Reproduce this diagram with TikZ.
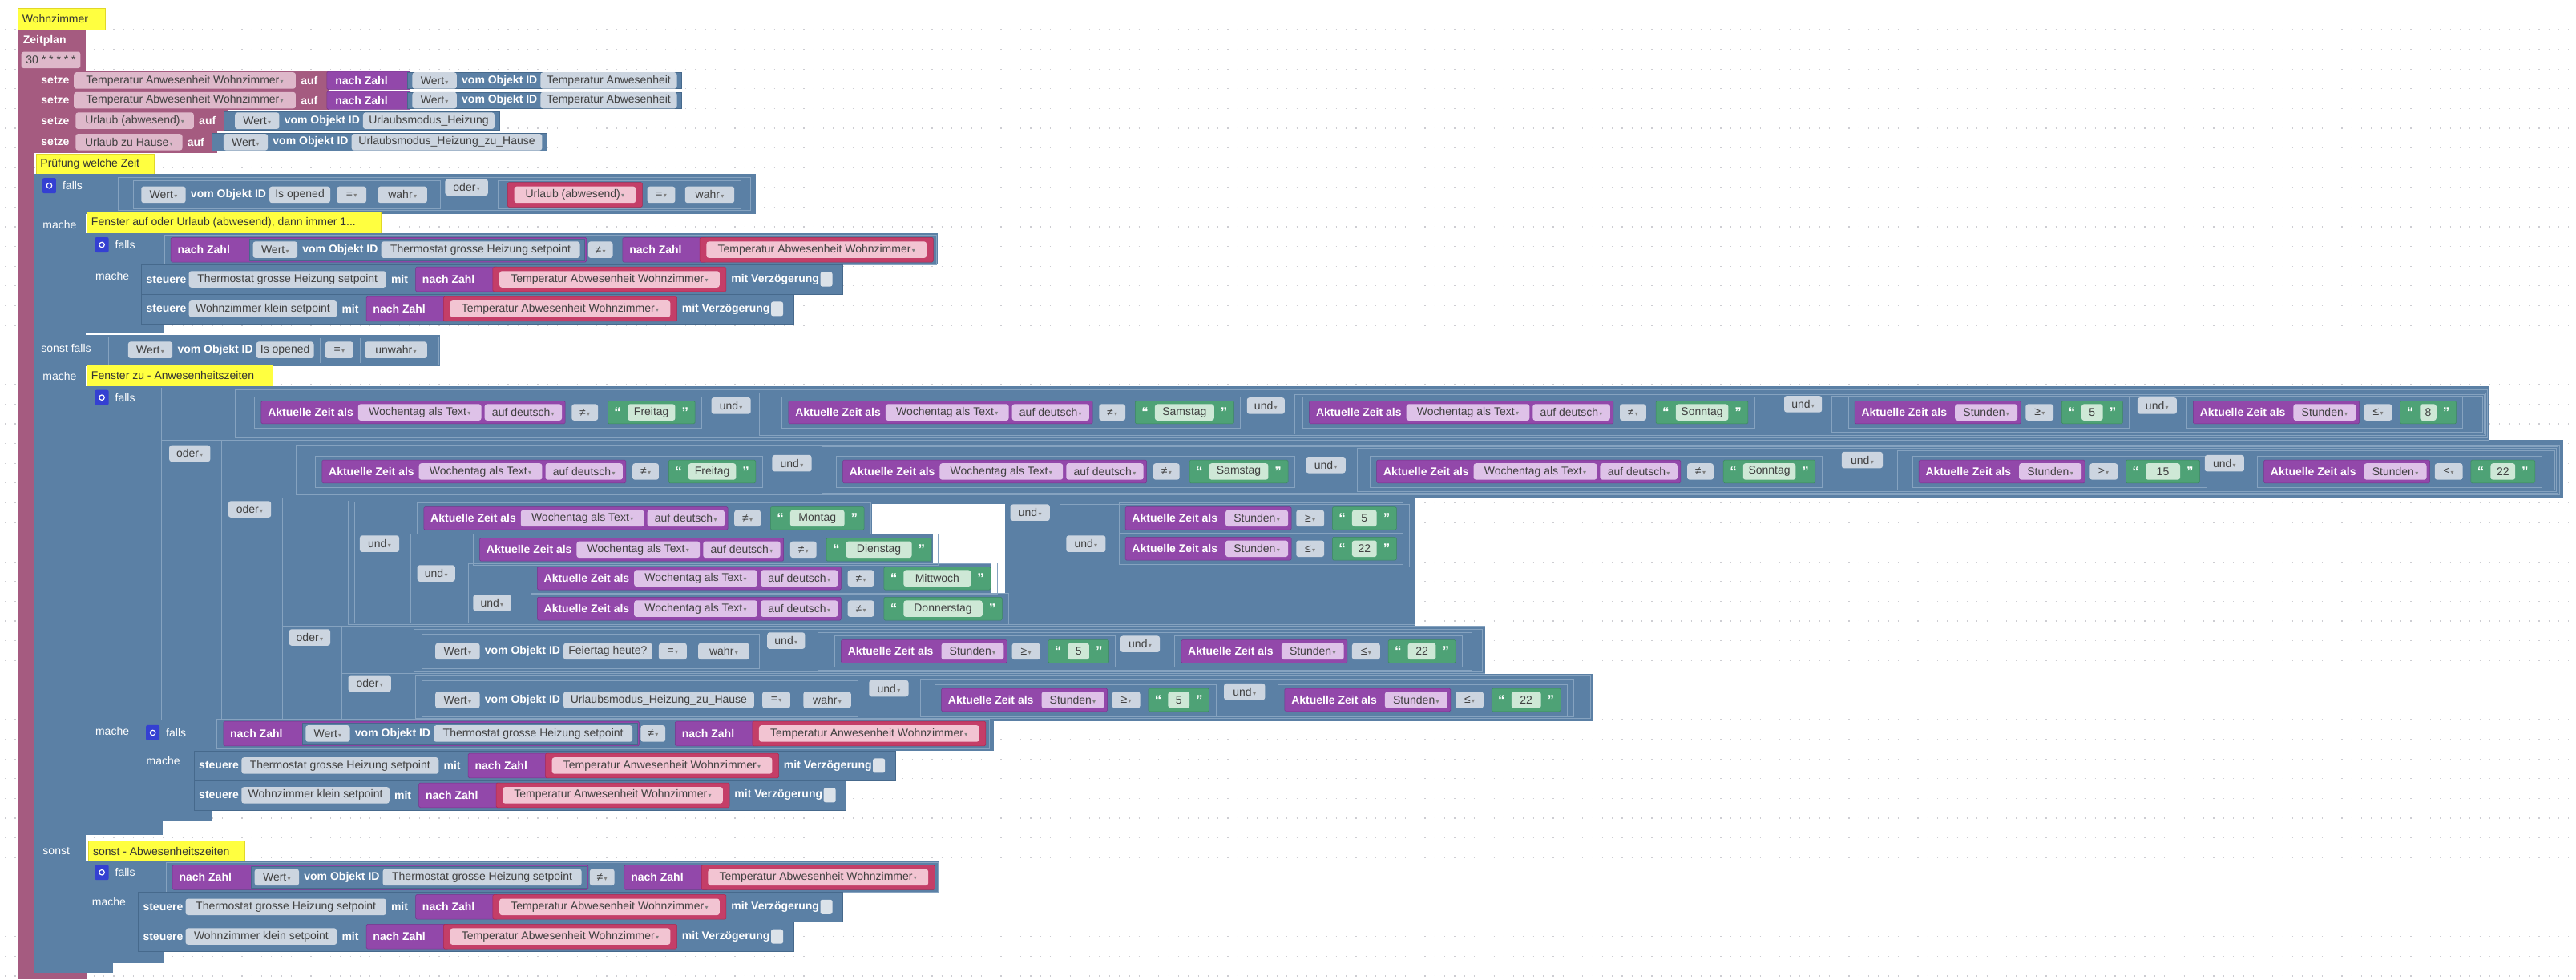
\documentclass[tikz,border=0pt]{standalone}
\usepackage{fontspec}
\setmainfont{Liberation Sans}
\newfontfamily\ddfam{DejaVu Sans}
\usetikzlibrary{positioning}

\definecolor{logicBlue}{HTML}{5B80A5}
\definecolor{logicDark}{HTML}{46698C}
\definecolor{logicLight}{HTML}{86A3C0}
\definecolor{varRed}{HTML}{A55B80}
\definecolor{purpCol}{RGB}{146,72,170}
\definecolor{purpDark}{RGB}{118,52,140}
\definecolor{textGreen}{RGB}{78,162,118}
\definecolor{greenDark}{RGB}{60,135,95}
\definecolor{redVar}{RGB}{196,62,104}
\definecolor{redDark}{RGB}{170,40,80}
\definecolor{pillGray}{RGB}{204,213,224}
\definecolor{pillPink}{RGB}{222,184,202}
\definecolor{pillRed}{RGB}{242,196,210}
\definecolor{pillLav}{RGB}{222,194,232}
\definecolor{pillGreen}{RGB}{206,232,214}
\definecolor{cmtYellow}{RGB}{255,255,64}
\definecolor{cmtEdge}{RGB}{225,215,40}
\definecolor{gearBlue}{RGB}{52,64,210}
\definecolor{dotGray}{RGB}{205,205,210}

\newcommand\blkfont{\fontsize{14}{16}\selectfont}
\newcommand\ddarr{{\ddfam\fontsize{8}{8}\selectfont\,\textcolor{gray}{▾}}}

% basic pieces
\newcommand\blk[5]{\path[#1] (#2,#3) rectangle (#4,#5);}
\newcommand\pill[6]{%
  \path[#1] (#3,#5-5) rectangle (#4,#5+5);
  \node[ftxt] (#2) at ({(#3+#4)/2},#5) {#6};}
\newcommand\cmt[6]{%
  \path[cmtbox] (#2,#3) rectangle (#4,#5);
  \node[cmttxt] (#1) at (#2+2.5,{(#3+#5)/2}) {#6};}
\newcommand\gear[3]{%
  \node[gearbx] (#1) at (#2,#3) {};
  \draw[white, line width=1.2pt] (#1.center) circle (3.2pt);}
\newcommand\strblk[5]{%
  \blk{grn}{#2}{#4-7}{#3}{#4+7}
  \node[qt] (#1q) at (#2+6,#4) {“};
  \node[qt] (#1r) at (#3-6,#4) {”};
  \pill{lgrn}{#1}{#2+12}{#3-12}{#4}{#5}}
\newcommand\varblk[5]{%
  \blk{redv}{#2}{#4-7.5}{#3}{#4+7.5}
  \pill{rpill}{#1}{#2+4}{#3-4}{#4}{#5\ddarr}}
\newcommand\wert[5]{%
  \pill{gpill}{#1w}{#2}{#2+27}{#3}{Wert\ddarr}
  \node[lbl] (#1v) at (#2+30,#3) {vom Objekt ID};
  \pill{gpill}{#1}{#2+78}{#5}{#3}{#4}}
% Aktuelle Zeit als Wochentag ... != "day"
\newcommand\cmpday[5]{%
  \draw[frm] (#2-4,#3-9.5) rectangle (#2+215+#5,#3+9.5);
  \blk{purp}{#2}{#3-7}{#2+185}{#3+7}
  \node[lbl] (#1l) at (#2+4,#3) {Aktuelle Zeit als};
  \pill{lav}{#1a}{#2+59}{#2+134}{#3}{Wochentag als Text\ddarr}
  \pill{lav}{#1b}{#2+136}{#2+183}{#3}{auf deutsch\ddarr}
  \pill{gpill}{#1o}{#2+189}{#2+205}{#3}{≠\ddarr}
  \strblk{#1s}{#2+211}{#2+211+#5}{#3}{#4}}
% Aktuelle Zeit als Stunden op "val"
\newcommand\cmphr[6]{%
  \draw[frm] (#2-4,#3-9.5) rectangle (#2+130+#6,#3+9.5);
  \blk{purp}{#2}{#3-7}{#2+101}{#3+7}
  \node[lbl] (#1l) at (#2+4,#3) {Aktuelle Zeit als};
  \pill{lav}{#1a}{#2+61}{#2+99}{#3}{Stunden\ddarr}
  \pill{gpill}{#1o}{#2+104}{#2+121}{#3}{#4\ddarr}
  \strblk{#1s}{#2+126}{#2+126+#6}{#3}{#5}}
% nach Zahl(Wert Thermostat) != nach Zahl(Temperatur ...)
\newcommand\thermcond[4]{%
  \draw[frm] (#2,#3-9) rectangle (#2+470,#3+9);
  \blk{purp}{#2+4}{#3-7.5}{#2+257}{#3+7.5}
  \node[lbl] (#1n) at (#2+8,#3) {nach Zahl};
  \blk{vblk}{#2+52}{#3-6.5}{#2+256}{#3+6.5}
  \wert{#1w}{#2+54}{#3}{Thermostat grosse Heizung setpoint}{#2+253}
  \pill{gpill}{#1o}{#2+258}{#2+273}{#3}{≠\ddarr}
  \blk{purp}{#2+279}{#3-7.5}{#2+330}{#3+7.5}
  \node[lbl] (#1m) at (#2+283,#3) {nach Zahl};
  \varblk{#1v}{#2+326}{#2+468}{#3}{Temperatur #4 Wohnzimmer}}
% steuere device mit nach Zahl(...) mit Verzoegerung
\newcommand\steuere[6]{%
  \blk{vblk}{#2}{#3-9}{#5+278}{#3+9}
  \node[lbl] (#1s) at (#2+3,#3) {steuere};
  \pill{gpill}{#1d}{#2+29}{#5}{#3}{#4}
  \node[lbl] (#1m) at (#5+3,#3) {mit};
  \blk{purp}{#5+18}{#3-7.5}{#5+68}{#3+7.5}
  \node[lbl] (#1n) at (#5+22,#3) {nach Zahl};
  \varblk{#1v}{#5+65}{#5+207}{#3}{Temperatur #6 Wohnzimmer}
  \node[lbl] (#1z) at (#5+210,#3) {mit Verzögerung};
  \node[chk] (#1c) at (#5+268,#3) {};}

\begin{document}
\begin{tikzpicture}[x=2.0497pt, y=-2.0503pt,
    lbl/.style={anchor=west, inner sep=0pt, text=white, font=\blkfont\bfseries},
    lblr/.style={anchor=west, inner sep=0pt, text=white, font=\blkfont},
    ftxt/.style={inner sep=0pt, text=black!75, font=\blkfont},
    cmttxt/.style={anchor=west, inner sep=0pt, text=black!80, font=\blkfont},
    qt/.style={inner sep=0pt, text=white, font=\fontsize{17}{17}\selectfont\bfseries},
    vblk/.style={fill=logicBlue, draw=logicDark, line width=0.5pt},
    purp/.style={fill=purpCol, draw=purpDark, line width=0.5pt, rounded corners=1.5pt},
    grn/.style={fill=textGreen, draw=greenDark, line width=0.5pt, rounded corners=1.5pt},
    redv/.style={fill=redVar, draw=redDark, line width=0.5pt, rounded corners=1.5pt},
    gpill/.style={fill=pillGray, rounded corners=3pt},
    ppill/.style={fill=pillPink, rounded corners=3pt},
    rpill/.style={fill=pillRed, rounded corners=3pt},
    lav/.style={fill=pillLav, rounded corners=3pt},
    lgrn/.style={fill=pillGreen, rounded corners=3pt},
    frm/.style={draw=logicLight, line width=0.6pt},
    cmtbox/.style={fill=cmtYellow, draw=cmtEdge, line width=0.6pt},
    gearbx/.style={fill=gearBlue, rounded corners=2pt, minimum width=17pt, minimum height=19pt, inner sep=0pt},
    chk/.style={fill=pillGray!70!white, rounded corners=2.5pt, minimum width=15pt, minimum height=18pt, inner sep=0pt}
  ]
\useasboundingbox (0,0) rectangle (1568,596);
\fill[white] (0,0) rectangle (1568,596);
\foreach \yy in {6,18,...,594}
  \draw[dotGray, line width=1.2pt, dash pattern=on 1.2pt off 11.1pt] (3,\yy) -- (1568,\yy);

% Zeitplan and setze rows
\fill[varRed] (11,17) rectangle (52,43);
\fill[varRed] (11,43) rectangle (21,596);
\fill[varRed] (11,592) rectangle (53,596);
\fill[varRed] (21,43) rectangle (200,55);
\fill[varRed] (21,55) rectangle (200,67);
\fill[varRed] (21,67) rectangle (139,80);
\fill[varRed] (21,80) rectangle (132,93);
\cmt{wz}{11}{5}{64}{18}{Wohnzimmer}
\node[lbl] (zeitplan) at (14,25) {Zeitplan};
\pill{ppill}{cron}{13}{49}{36.5}{30 * * * * *}

\node[lbl] (r1set) at (25,49) {setze};
\pill{ppill}{r1var}{45}{180}{49}{Temperatur Anwesenheit Wohnzimmer\ddarr}
\node[lbl] (r1auf) at (183,49) {auf};
\blk{purp}{199}{43.5}{250}{54.5}
\node[lbl] (r1nz) at (204,49) {nach Zahl};
\blk{vblk}{248}{44}{415}{54}
\wert{r1obj}{251}{49}{Temperatur Anwesenheit}{412}

\node[lbl] (r2set) at (25,61) {setze};
\pill{ppill}{r2var}{45}{180}{61}{Temperatur Abwesenheit Wohnzimmer\ddarr}
\node[lbl] (r2auf) at (183,61) {auf};
\blk{purp}{199}{55.5}{250}{66.5}
\node[lbl] (r2nz) at (204,61) {nach Zahl};
\blk{vblk}{248}{56}{415}{66}
\wert{r2obj}{251}{61}{Temperatur Abwesenheit}{412}

\node[lbl] (r3set) at (25,73.5) {setze};
\pill{ppill}{r3var}{46}{118}{73.5}{Urlaub (abwesend)\ddarr}
\node[lbl] (r3auf) at (121,73.5) {auf};
\blk{vblk}{136}{68}{304}{79}
\wert{r3obj}{143}{73.5}{Urlaubsmodus\_Heizung}{301}

\node[lbl] (r4set) at (25,86.5) {setze};
\pill{ppill}{r4var}{46}{111}{86.5}{Urlaub zu Hause\ddarr}
\node[lbl] (r4auf) at (114,86.5) {auf};
\blk{vblk}{129}{81}{333}{92}
\wert{r4obj}{136}{86.5}{Urlaubsmodus\_Heizung\_zu\_Hause}{330}

\cmt{pz}{22}{94}{94}{106}{Prüfung welche Zeit}

% outer falls / sonst falls / sonst
\fill[logicBlue] (21,106) rectangle (460,130);
\fill[logicBlue] (21,130) rectangle (52,592);
\fill[logicBlue] (21,204) rectangle (268,223);
\fill[logicBlue] (21,586) rectangle (69,592);
\gear{ic1}{30}{113}
\node[lblr] (falls1) at (38,113) {falls};
\draw[frm] (72,108) rectangle (457,128);
\draw[frm] (81,110) rectangle (268,127);
\draw[frm] (303,110) rectangle (451,127);
\draw[frm] (227,111) -- (227,126);
\wert{c1}{86}{118.5}{Is opened}{201}
\pill{gpill}{c1eq}{205}{223}{118.5}{=\ddarr}
\pill{gpill}{c1w}{230}{260}{118.5}{wahr\ddarr}
\pill{gpill}{c1or}{271}{297}{114}{oder\ddarr}
\varblk{c1var}{309}{391}{118.5}{Urlaub (abwesend)}
\pill{gpill}{c1eqb}{394}{411}{118.5}{=\ddarr}
\pill{gpill}{c1wb}{417}{447}{118.5}{wahr\ddarr}

\node[lblr] (mache1) at (26,137) {mache};
\cmt{fa}{53}{129}{232}{142}{Fenster auf oder Urlaub (abwesend), dann immer 1...}
\fill[logicBlue] (52,142) rectangle (571,161);
\fill[logicBlue] (52,161) rectangle (86,197);
\fill[logicBlue] (52,197) rectangle (100,203);
\gear{ic2}{62}{149}
\node[lblr] (falls2) at (70,149) {falls};
\thermcond{k1}{100}{152}{Abwesenheit}
\node[lblr] (mache2) at (58,168) {mache};
\steuere{t1}{86}{170}{Thermostat grosse Heizung setpoint}{235}{Abwesenheit}
\steuere{t2}{86}{188}{Wohnzimmer klein setpoint}{205}{Abwesenheit}

\node[lblr] (sfalls) at (25,212) {sonst falls};
\draw[frm] (66,205) rectangle (267,222);
\draw[frm] (195,206) -- (195,221);
\draw[frm] (219,206) -- (219,221);
\wert{c2}{78}{213}{Is opened}{191}
\pill{gpill}{c2eq}{198}{215}{213}{=\ddarr}
\pill{gpill}{c2w}{222}{260}{213}{unwahr\ddarr}

\node[lblr] (mache3) at (26,229) {mache};
\cmt{fz}{53}{222}{166}{235}{Fenster zu - Anwesenheitszeiten}

% big falls with the time windows
\fill[logicBlue] (52,235) rectangle (98,500);
\fill[logicBlue] (52,500) rectangle (99,508);
\fill[logicBlue] (98,235) rectangle (1515,268);
\fill[logicBlue] (98,268) rectangle (1560,303);
\fill[logicBlue] (98,303) rectangle (861,381);
\fill[logicBlue] (98,381) rectangle (904,410);
\fill[logicBlue] (98,410) rectangle (970,439);
\fill[white] (531,307) rectangle (612,325);
\fill[white] (568,325) rectangle (612,343);
\fill[white] (603,343) rectangle (612,361);
\gear{ic3}{62}{242}
\node[lblr] (falls3) at (70,242) {falls};
\draw[frm] (98,236) -- (98,438);
\draw[frm] (98,268) -- (1515,268);
\draw[frm] (135,268) -- (135,438);
\draw[frm] (135,303) -- (1560,303);
\draw[frm] (172,303) -- (172,438);
\draw[frm] (172,381) -- (904,381);
\draw[frm] (208,381) -- (208,438);
\draw[frm] (208,410) -- (904,410);

\draw[frm] (143,237) rectangle (1514,266);
\cmpday{a1}{159}{251}{Freitag}{53}
\pill{gpill}{a1u}{433}{457}{247}{und\ddarr}
\draw[frm] (462,239) rectangle (1513,265);
\cmpday{a2}{480}{251}{Samstag}{60}
\pill{gpill}{a2u}{759}{782}{247}{und\ddarr}
\draw[frm] (788,240) rectangle (1512,264);
\cmpday{a3}{797}{251}{Sonntag}{56}
\pill{gpill}{a3u}{1086}{1109}{246}{und\ddarr}
\draw[frm] (1115,241) rectangle (1511,263);
\cmphr{a4}{1129}{251}{≥}{5}{37}
\pill{gpill}{a4u}{1301}{1325}{247}{und\ddarr}
\cmphr{a5}{1335}{251}{≤}{8}{34}

\pill{gpill}{o1}{103}{128}{276}{oder\ddarr}
\draw[frm] (180,271) rectangle (1558,301);
\cmpday{b1}{196}{287}{Freitag}{53}
\pill{gpill}{b1u}{470}{494}{282}{und\ddarr}
\draw[frm] (500,272) rectangle (1557,300);
\cmpday{b2}{513}{287}{Samstag}{60}
\pill{gpill}{b2u}{795}{819}{283}{und\ddarr}
\draw[frm] (826,273) rectangle (1556,299);
\cmpday{b3}{838}{287}{Sonntag}{56}
\pill{gpill}{b3u}{1121}{1146}{280}{und\ddarr}
\draw[frm] (1155,274) rectangle (1555,298);
\cmphr{b4}{1168}{287}{≥}{15}{45}
\pill{gpill}{b4u}{1342}{1366}{282}{und\ddarr}
\cmphr{b5}{1378}{287}{≤}{22}{39}

\pill{gpill}{o2}{139}{165}{310}{oder\ddarr}
\draw[frm] (212,305) -- (212,380) -- (861,380);
\draw[frm] (216,306) -- (216,379) -- (612,379);
\draw[frm] (250,325) -- (250,379);
\draw[frm] (250,325) -- (568,325);
\draw[frm] (285,343) -- (285,379);
\draw[frm] (285,343) -- (603,343);
\pill{gpill}{wu1}{219}{243}{331}{und\ddarr}
\cmpday{w1}{258}{315.5}{Montag}{57}
\pill{gpill}{wu2}{254}{277}{349}{und\ddarr}
\cmpday{w2}{292}{334.5}{Dienstag}{64}
\pill{gpill}{wu3}{288}{311}{367}{und\ddarr}
\cmpday{w3}{327}{352}{Mittwoch}{65}
\cmpday{w4}{327}{370.5}{Donnerstag}{72}
\pill{gpill}{du}{615}{639}{312}{und\ddarr}
\draw[frm] (645,307) rectangle (858,345);
\pill{gpill}{su}{649}{673}{331}{und\ddarr}
\cmphr{s1}{685}{315.5}{≥}{5}{39}
\cmphr{s2}{685}{334}{≤}{22}{39}

\pill{gpill}{o3}{176}{201}{388}{oder\ddarr}
\draw[frm] (252,383) rectangle (902,409);
\draw[frm] (257,386) rectangle (462,407);
\wert{f1}{265}{396.5}{Feiertag heute?}{397}
\pill{gpill}{f1eq}{401}{418}{396.5}{=\ddarr}
\pill{gpill}{f1w}{425}{456}{396.5}{wahr\ddarr}
\pill{gpill}{fu}{467}{490}{390}{und\ddarr}
\draw[frm] (498,385) rectangle (896,408);
\cmphr{f2}{512}{396.5}{≥}{5}{37}
\pill{gpill}{fu2}{682}{706}{392}{und\ddarr}
\cmphr{f3}{719}{396.5}{≤}{22}{41}

\pill{gpill}{o4}{212}{238}{416}{oder\ddarr}
\draw[frm] (253,411) rectangle (968,437);
\draw[frm] (257,414) rectangle (522,436);
\wert{g1}{265}{426}{Urlaubsmodus\_Heizung\_zu\_Hause}{459}
\pill{gpill}{g1eq}{464}{481}{426}{=\ddarr}
\pill{gpill}{g1w}{489}{518}{426}{wahr\ddarr}
\pill{gpill}{gu}{529}{553}{419}{und\ddarr}
\draw[frm] (560,413) rectangle (958,436);
\cmphr{g2}{573}{426}{≥}{5}{37}
\pill{gpill}{gu2}{745}{770}{421}{und\ddarr}
\cmphr{g3}{782}{426}{≤}{22}{42}

\node[lblr] (mache4) at (58,445) {mache};
\fill[logicBlue] (86,438) rectangle (605,457);
\fill[logicBlue] (86,457) rectangle (118,493);
\fill[logicBlue] (86,493) rectangle (129,500);
\gear{ic4}{93}{446}
\node[lblr] (falls4) at (101,446) {falls};
\thermcond{k2}{132}{446.5}{Anwesenheit}
\node[lblr] (mache5) at (89,463) {mache};
\steuere{t3}{118}{466}{Thermostat grosse Heizung setpoint}{267}{Anwesenheit}
\steuere{t4}{118}{484}{Wohnzimmer klein setpoint}{237}{Anwesenheit}

% sonst
\node[lblr] (sonst) at (26,518) {sonst};
\cmt{sa}{54}{512}{149}{524}{sonst - Abwesenheitszeiten}
\fill[logicBlue] (52,524) rectangle (572,543);
\fill[logicBlue] (52,543) rectangle (84,579);
\fill[logicBlue] (52,579) rectangle (100,586);
\gear{ic5}{62}{531}
\node[lblr] (falls5) at (70,531) {falls};
\thermcond{k3}{101}{534}{Abwesenheit}
\node[lblr] (mache6) at (56,549) {mache};
\steuere{t5}{84}{552}{Thermostat grosse Heizung setpoint}{235}{Abwesenheit}
\steuere{t6}{84}{570}{Wohnzimmer klein setpoint}{205}{Abwesenheit}
\end{tikzpicture}
\end{document}
